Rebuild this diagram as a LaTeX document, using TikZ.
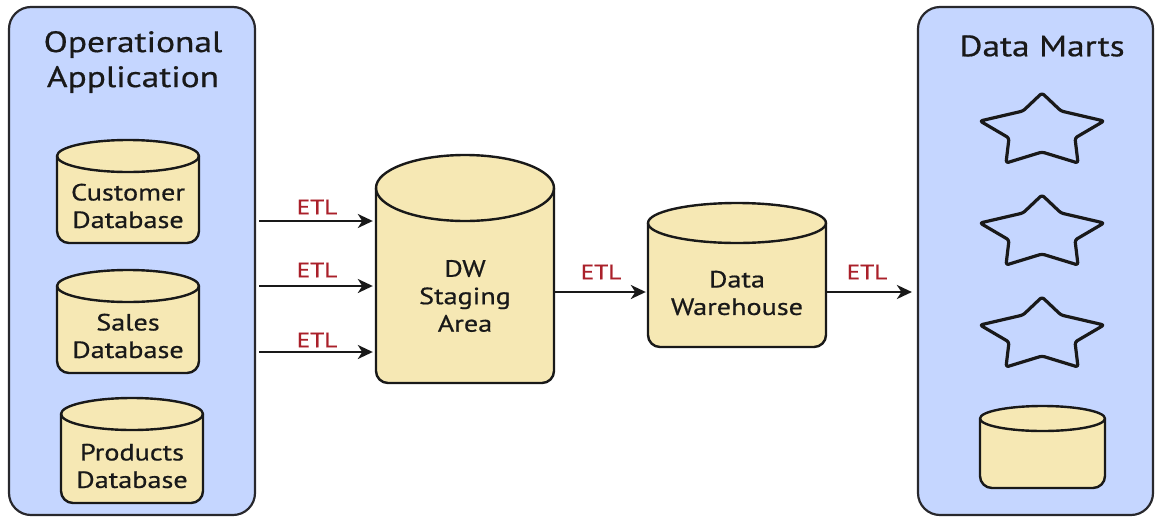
\documentclass[tikz,border=0pt]{standalone}
\usepackage{fontspec}
\setmainfont{PT Sans}[FakeStretch=1.2,FakeBold=0.6]
\usetikzlibrary{arrows.meta}
\definecolor{panelblue}{RGB}{197,214,255}
\definecolor{paneledge}{RGB}{40,40,45}
\definecolor{cylfill}{RGB}{246,232,180}
\definecolor{etlred}{RGB}{170,32,42}
\tikzset{
  panel/.style={draw=paneledge, line width=2.2pt, fill=panelblue, rounded corners=22pt, inner sep=0pt},
  titletext/.style={align=center, font=\fontsize{29.5}{35}\selectfont, text=black!90},
  cylline/.style={draw=black!90, line width=2.4pt, fill=cylfill, line join=round},
  dbtext/.style={align=center, font=\fontsize{23.5}{27.5}\selectfont, text=black!90, inner sep=0pt},
  etl/.style={font=\fontsize{21}{24}\selectfont, text=etlred, inner sep=0pt},
  flow/.style={line width=2.4pt, black!90, -{Stealth[length=15pt,width=14pt,inset=4.5pt]}},
  starline/.style={draw=black!90, line width=3.2pt, rounded corners=2.5pt, line join=round}
}
\newcommand\dbcyl[8]{%
  \pgfmathsetmacro\cylcx{(#2+#3)/2}%
  \pgfmathsetmacro\cylrx{(#3-#2)/2}%
  \pgfmathsetmacro\cylw{#3-#2}%
  \pgfmathsetmacro\cyley{#4+#5}%
  \filldraw[cylline] (#2,-\cyley) -- (#2,-#6+12) arc[start angle=180,end angle=270,radius=12pt] -- (#3-12,-#6) arc[start angle=270,end angle=360,radius=12pt] -- (#3,-\cyley) arc[start angle=0,end angle=180,x radius=\cylrx pt,y radius=#5pt] -- cycle;
  \draw[cylline, fill=none] (#2,-\cyley) arc[start angle=180,end angle=360,x radius=\cylrx pt,y radius=#5pt];
  \node[dbtext, minimum width=\cylw pt] (#1) at (\cylcx,-#8) {#7};
}
\newcommand\martstar[2]{%
  \draw[starline, shift={(#1,#2)}] (0,37) -- (-19,19) -- (-62,9) -- (-33,-8) -- (-36,-33) -- (0,-22) -- (36,-33) -- (33,-8) -- (62,9) -- (19,19) -- cycle;
}
\begin{document}
\begin{tikzpicture}[x=1pt,y=1pt]
\useasboundingbox (0,0) rectangle (1156,-517);
% panels
\node[panel, minimum width=246pt, minimum height=508pt] (opapp) at (132,-261) {};
\node[panel, minimum width=235pt, minimum height=508pt] (marts) at (1035.5,-261) {};
\node[titletext] (optitle) at (133,-62) {Operational\\Application};
\node[titletext] (marttitle) at (1042,-46) {Data Marts};
% source databases
\dbcyl{customer}{57}{199}{140}{16}{243}{Customer\\Database}{206}
\dbcyl{sales}{57}{199}{270}{16}{373}{Sales\\Database}{336}
\dbcyl{products}{61}{203}{398}{16}{503}{Products\\Database}{466}
% staging and warehouse
\dbcyl{staging}{376}{554}{155}{33}{383}{DW\\Staging\\Area}{296}
\dbcyl{warehouse}{648}{826}{203}{20}{347}{Data\\Warehouse}{293}
% data marts
\martstar{1042}{-130}
\martstar{1042}{-232}
\martstar{1042}{-334}
\dbcyl{martdb}{980}{1105}{406}{12.5}{488}{}{455}
% arrows
\draw[flow, shorten <=3pt, shorten >=3pt] (opapp.east |- 0,-221) -- (staging.west |- 0,-221);
\draw[flow, shorten <=3pt, shorten >=3pt] (opapp.east |- 0,-286) -- (staging.west |- 0,-286);
\draw[flow, shorten <=3pt, shorten >=3pt] (opapp.east |- 0,-352) -- (staging.west |- 0,-352);
\draw[flow, shorten >=2pt] (staging.east |- 0,-292) -- (warehouse.west |- 0,-292);
\draw[flow, shorten >=5pt] (warehouse.east |- 0,-292) -- (marts.west |- 0,-292);
% labels
\node[etl] (etl1) at (317,-207) {ETL};
\node[etl] (etl2) at (317,-270) {ETL};
\node[etl] (etl3) at (317,-340) {ETL};
\node[etl] (etl4) at (601,-272) {ETL};
\node[etl] (etl5) at (867,-272) {ETL};
\end{tikzpicture}
\end{document}
